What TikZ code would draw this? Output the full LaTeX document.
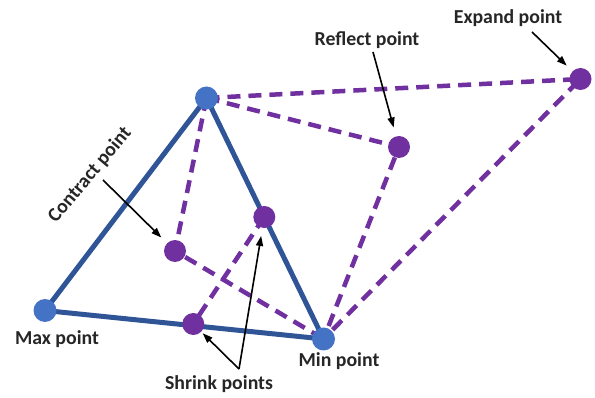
\documentclass[tikz,border=0pt]{standalone}
\usepackage{fontspec}
\setmainfont{Carlito}
\usetikzlibrary{arrows.meta}
\definecolor{dotblue}{HTML}{4472C4}
\definecolor{edgeblue}{HTML}{2F5597}
\definecolor{simplexpurple}{HTML}{7030A0}
\begin{document}
\begin{tikzpicture}[x=1pt,y=-1pt,
  bluedot/.style={circle,fill=dotblue,inner sep=0pt,minimum size=23pt},
  purpledot/.style={circle,fill=simplexpurple,inner sep=0pt,minimum size=22pt},
  edge/.style={draw=edgeblue,line width=5pt},
  trial/.style={draw=simplexpurple,line width=4.5pt,dash pattern=on 13pt off 8pt},
  ptr/.style={draw=black,line width=1.6pt,-{Triangle[length=10pt,width=7pt]}},
  lbl/.style={font=\fontsize{19.8}{22}\selectfont\bfseries,text=black!85,inner sep=0pt}]
\useasboundingbox (0,0) rectangle (595,398);
% vertex positions
\coordinate (top) at (206.5,98);
\coordinate (max) at (45,310.5);
\coordinate (min) at (323.5,339);
\coordinate (expand) at (580.5,79);
\coordinate (reflect) at (399,147);
\coordinate (contract) at (175,251);
\coordinate (shrinkA) at (264.3,217);
\coordinate (shrinkB) at (193.3,324);
% trial simplices (dashed)
\draw[trial] (top) -- (expand) -- (min);
\draw[trial] (top) -- (reflect) -- (min);
\draw[trial] (top) -- (contract) -- (min);
\draw[trial] (shrinkA) -- (shrinkB);
% current simplex
\draw[edge,line join=round] (top) -- (max) -- (min) -- cycle;
% vertices
\node[bluedot] (topdot) at (top) {};
\node[bluedot] (maxdot) at (max) {};
\node[bluedot] (mindot) at (min) {};
\node[purpledot] (expanddot) at (expand) {};
\node[purpledot] (reflectdot) at (reflect) {};
\node[purpledot] (contractdot) at (contract) {};
\node[purpledot] (shrinkAdot) at (shrinkA) {};
\node[purpledot] (shrinkBdot) at (shrinkB) {};
% labels
\node[lbl] (expandlbl) at (508,18) {Expand point};
\node[lbl] (reflectlbl) at (367,40) {Reflect point};
\node[lbl,rotate=50] (contractlbl) at (90,175) {Contract point};
\node[lbl] (maxlbl) at (57,339) {Max point};
\node[lbl] (minlbl) at (339,361) {Min point};
\node[lbl] (shrinklbl) at (219,384) {Shrink points};
% pointers
\coordinate (expandtail) at (532,32);
\coordinate (reflecttail) at (373,52);
\coordinate (contracttail) at (103,180);
\coordinate (shrinktail) at (239,369);
\draw[ptr,shorten >=8pt] (expandtail) -- (expanddot);
\draw[ptr,shorten >=9pt] (reflecttail) -- (reflectdot);
\draw[ptr,shorten >=8pt] (contracttail) -- (contractdot);
\draw[ptr,shorten >=2pt] (shrinktail) -- (shrinkBdot);
\draw[ptr,shorten >=8pt] (shrinktail) -- (shrinkAdot);
\end{tikzpicture}
\end{document}
